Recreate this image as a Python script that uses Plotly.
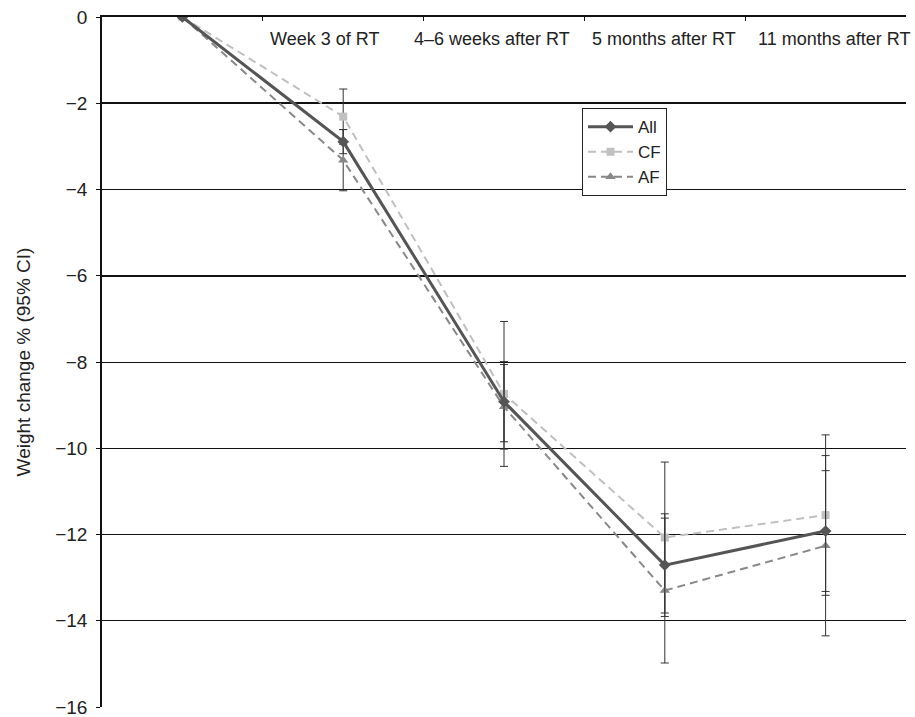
import plotly.graph_objects as go

time_points = ["Baseline", "Week 3 of RT", "4–6 weeks after RT", "5 months after RT", "11 months after RT"]
tick_labels = ["", "Week 3 of RT", "4–6 weeks after RT", "5 months after RT", "11 months after RT"]

all_mean = [0, -2.89, -8.92, -12.71, -11.92]
all_ci = [0, 0.28, 0.93, 1.19, 1.40]
cf_mean = [0, -2.31, -8.74, -12.07, -11.55]
cf_ci = [0, 0.64, 1.68, 1.75, 1.86]
af_mean = [0, -3.32, -9.04, -13.30, -12.26]
af_ci = [0, 0.71, 0.98, 1.68, 2.09]

y_ticks = [0, -2, -4, -6, -8, -10, -12, -14, -16]
y_tick_text = ["0", "−2", "−4", "−6", "−8", "−10", "−12", "−14", "−16"]
thin_grid = [-4, -8, -10, -12, -14]
thick_grid = [-2, -6]

label_xshift = [0, -19, -12, -1, 8]

FONT = "Liberation Sans, Arial, sans-serif"
TXT = "#222222"

fig = go.Figure()

def err(ci):
    return dict(type="data", array=ci, visible=True, color="#333333", thickness=1, width=4)

fig.add_trace(go.Scatter(
    x=time_points, y=cf_mean, name="CF", mode="lines+markers", legendrank=2,
    line=dict(color="#c0c0c0", width=2, dash="8px,5px"),
    marker=dict(symbol="square", size=8, color="#c0c0c0"),
    error_y=err(cf_ci),
))
fig.add_trace(go.Scatter(
    x=time_points, y=af_mean, name="AF", mode="lines+markers", legendrank=3,
    line=dict(color="#888888", width=2, dash="8px,5px"),
    marker=dict(symbol="triangle-up", size=9, color="#888888"),
    error_y=err(af_ci),
))
fig.add_trace(go.Scatter(
    x=time_points, y=all_mean, name="All", mode="lines+markers", legendrank=1,
    line=dict(color="#555555", width=3),
    marker=dict(symbol="diamond", size=9, color="#555555"),
    error_y=err(all_ci),
))

# helper traces so the grid overlay axes render
fig.add_trace(go.Scatter(x=[time_points[0]], y=[None], yaxis="y2", showlegend=False, hoverinfo="skip"))
fig.add_trace(go.Scatter(x=[time_points[0]], y=[None], yaxis="y3", showlegend=False, hoverinfo="skip"))

for lbl, tp, dx in zip(tick_labels, time_points, label_xshift):
    if lbl:
        fig.add_annotation(x=tp, y=0, yref="y", text=lbl, showarrow=False,
                           xshift=dx, yshift=-22, yanchor="middle",
                           font=dict(family=FONT, size=18, color=TXT))

fig.update_layout(
    width=915, height=717,
    margin=dict(l=102, r=9, t=17, b=10),
    paper_bgcolor="white", plot_bgcolor="white",
    font=dict(family=FONT, size=19, color=TXT),
    showlegend=True,
    legend=dict(
        x=0.597, y=0.868, xanchor="left", yanchor="top",
        bordercolor="#222222", borderwidth=1, bgcolor="white",
        font=dict(family=FONT, size=17, color=TXT),
        tracegroupgap=0, itemwidth=45,
    ),
    xaxis=dict(
        type="category", categoryorder="array", categoryarray=time_points,
        range=[-0.5, 4.5], side="top", showline=True, linecolor="#111111", linewidth=2,
        ticks="inside", ticklen=4, tickcolor="#111111", tickson="boundaries",
        showticklabels=False, showgrid=False, zeroline=False, automargin=False,
    ),
    yaxis=dict(
        range=[-16, 0], tickvals=y_ticks, ticktext=y_tick_text,
        showline=True, linecolor="#111111", linewidth=1.5,
        ticks="outside", ticklen=4, tickcolor="#111111",
        showgrid=False, zeroline=False, automargin=False,
        ticklabelstandoff=5, ticklabeloverflow="allow",
        tickfont=dict(family=FONT, size=19, color=TXT),
        title=dict(text="Weight change % (95% CI)", standoff=20,
                   font=dict(family=FONT, size=19, color=TXT)),
    ),
    yaxis2=dict(
        overlaying="y", range=[-16, 0], tickvals=thin_grid, showticklabels=False,
        showgrid=True, gridcolor="#111111", gridwidth=1, zeroline=False, showline=False,
        automargin=False,
    ),
    yaxis3=dict(
        overlaying="y", range=[-16, 0], tickvals=thick_grid, showticklabels=False,
        showgrid=True, gridcolor="#111111", gridwidth=2, zeroline=False, showline=False,
        automargin=False,
    ),
)

fig.write_html("out.html", config={"displayModeBar": False},
               post_script="document.body.style.margin='0';document.body.style.overflow='hidden';")
